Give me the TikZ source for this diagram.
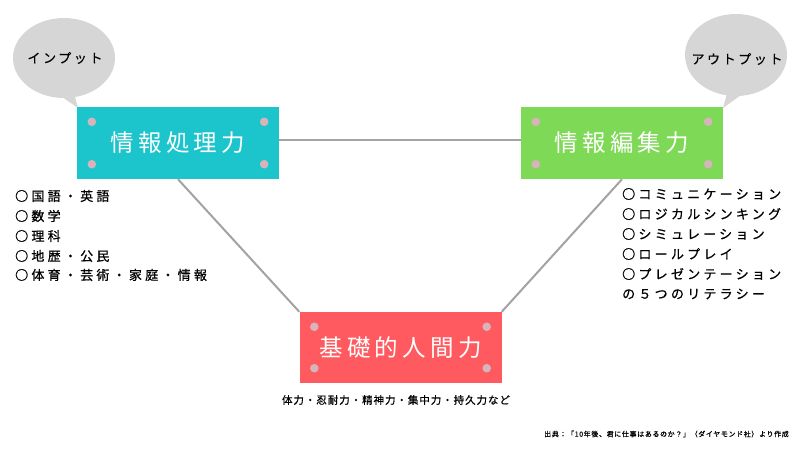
\documentclass[tikz,border=0pt]{standalone}
\usepackage{fontspec}
\setmainfont{Noto Sans CJK JP}
\newfontfamily\jpfont{Noto Sans CJK JP}
\definecolor{cbox}{HTML}{1CC4CC}
\definecolor{gbox}{HTML}{7ED957}
\definecolor{rbox}{HTML}{FF5A5F}
\definecolor{dotc}{HTML}{D6B4BA}
\definecolor{bubc}{HTML}{D6D6D6}
\definecolor{linec}{HTML}{A3A3A3}
\tikzset{
  mainbox/.style={minimum width=202pt, minimum height=72pt, inner sep=0pt, text=white,
    font=\jpfont\fontsize{23.5}{26}\selectfont\addfontfeatures{LetterSpace=18}},
  boxdot/.style={fill=dotc, draw=none},
  conn/.style={draw=linec, line width=2pt},
  bubble/.style={fill=bubc, draw=none},
  bubtext/.style={inner sep=0pt, font=\jpfont\fontsize{13}{15}\selectfont\addfontfeatures{LetterSpace=20,FakeBold=0.3}},
  listtext/.style={anchor=west, inner sep=0pt, font=\jpfont\fontsize{13}{15}\selectfont\addfontfeatures{LetterSpace=25,FakeBold=0.7}},
  smalltext/.style={inner sep=0pt, font=\jpfont\fontsize{10.5}{12}\selectfont\addfontfeatures{LetterSpace=9,FakeBold=0.6}},
  srctext/.style={inner sep=0pt, font=\jpfont\fontsize{7}{8}\selectfont\addfontfeatures{LetterSpace=9,FakeBold=0.6}}
}
\begin{document}
\begin{tikzpicture}[x=1pt,y=-1pt]
\useasboundingbox (0,0) rectangle (800,450);
\fill[white] (0,0) rectangle (800,450);
% bubbles
\fill[bubble] (64,58) ellipse [x radius=51, y radius=40];
\fill[bubble] (52,90) -- (78,108) -- (74,93) -- cycle;
\node[bubtext] (bin) at (65,58) {インプット};
\fill[bubble] (736,55) ellipse [x radius=51, y radius=41];
\fill[bubble] (728,90) -- (723,108) -- (748,90) -- cycle;
\node[bubtext] (bout) at (737,59) {アウトプット};
% boxes
\node[mainbox, fill=cbox] (b1) at (178,143) {情報処理力};
\node[mainbox, fill=gbox] (b2) at (622,143) {情報編集力};
\node[mainbox, fill=rbox, minimum height=71pt] (b3) at (400.5,347.5) {基礎的人間力};
% connectors
\draw[conn] ([yshift=3pt]b1.east) -- ([yshift=3pt]b2.west);
\draw[conn] (b1.south) -- (b3.north west);
\draw[conn] (b2.south) -- (b3.north east);
% dots
\foreach \b in {b1,b2,b3}{
  \fill[boxdot] ([xshift=15pt,yshift=-15pt]\b.north west) circle (4.3);
  \fill[boxdot] ([xshift=-15pt,yshift=-15pt]\b.north east) circle (4.3);
  \fill[boxdot] ([xshift=15pt,yshift=15pt]\b.south west) circle (4.3);
  \fill[boxdot] ([xshift=-15pt,yshift=15pt]\b.south east) circle (4.3);
}
% left list
\node[listtext] (l1) at (15,196) {○国語・英語};
\node[listtext] (l2) at (15,216) {○数学};
\node[listtext] (l3) at (15,236) {○理科};
\node[listtext] (l4) at (15,256) {○地歴・公民};
\node[listtext] (l5) at (15,275) {○体育・芸術・家庭・情報};
% right list
\node[listtext] (r1) at (622,194) {○コミュニケーション};
\node[listtext] (r2) at (622,214) {○ロジカルシンキング};
\node[listtext] (r3) at (622,234) {○シミュレーション};
\node[listtext] (r4) at (622,254) {○ロールプレイ};
\node[listtext] (r5) at (622,274) {○プレゼンテーション};
\node[listtext] (r6) at (622,294) {の５つのリテラシー};
% bottom texts
\node[smalltext] (bt) at (396,400) {体力・忍耐力・精神力・集中力・持久力など};
\node[srctext, anchor=east] (src) at (789,434) {出典：「10年後、君に仕事はあるのか？」（ダイヤモンド社）より作成};
\end{tikzpicture}
\end{document}
